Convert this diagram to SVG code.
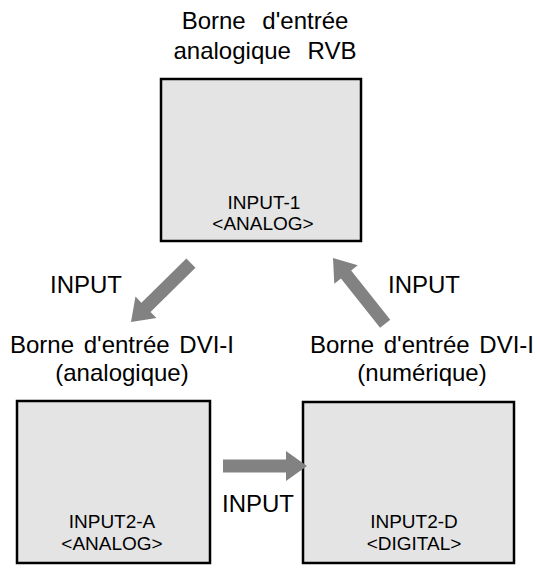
<svg xmlns="http://www.w3.org/2000/svg" width="540" height="568" viewBox="0 0 540 568">
<style>
.box{fill:#e4e4e4;stroke:#000;stroke-width:2.5}
.lbl{font-family:"Liberation Sans",Arial,sans-serif;font-size:24px;fill:#000;text-anchor:middle}
.nd{font-family:"Liberation Sans",Arial,sans-serif;font-size:19px;fill:#000;text-anchor:middle}
.arr{fill:#828282}
</style>
<defs>
<path id="arrow" d="M-84,-6.5 H-21 V-15 L0,0 L-21,15 V6.5 H-84 Z"/>
</defs>
<rect width="540" height="568" fill="#fff"/>
<g id="node-input1">
<text class="lbl" x="265" y="29" word-spacing="10">Borne d'entrée</text>
<text class="lbl" x="265" y="59" word-spacing="10">analogique RVB</text>
<rect class="box" x="161" y="79" width="200" height="162"/>
<text class="nd" x="264" y="209">INPUT-1</text>
<text class="nd" x="263" y="230">&lt;ANALOG&gt;</text>
</g>
<g id="node-input2a">
<text class="lbl" x="122" y="353" word-spacing="3">Borne d'entrée DVI-I</text>
<text class="lbl" x="122" y="381">(analogique)</text>
<rect class="box" x="17" y="401" width="193" height="162"/>
<text class="nd" x="112" y="528">INPUT2-A</text>
<text class="nd" x="112" y="550">&lt;ANALOG&gt;</text>
</g>
<g id="node-input2d">
<text class="lbl" x="422" y="353" word-spacing="3">Borne d'entrée DVI-I</text>
<text class="lbl" x="422" y="381">(numérique)</text>
<rect class="box" x="303" y="402" width="211" height="161"/>
<text class="nd" x="414" y="528">INPUT2-D</text>
<text class="nd" x="414" y="550">&lt;DIGITAL&gt;</text>
</g>
<g id="connectors">
<use href="#arrow" class="arr" transform="translate(131,322) rotate(135.5)"/>
<use href="#arrow" class="arr" transform="translate(333,258) rotate(-128.4)"/>
<use href="#arrow" class="arr" transform="translate(307,466)"/>
<text class="lbl" x="86" y="293">INPUT</text>
<text class="lbl" x="424" y="293">INPUT</text>
<text class="lbl" x="258" y="512">INPUT</text>
</g>
</svg>
